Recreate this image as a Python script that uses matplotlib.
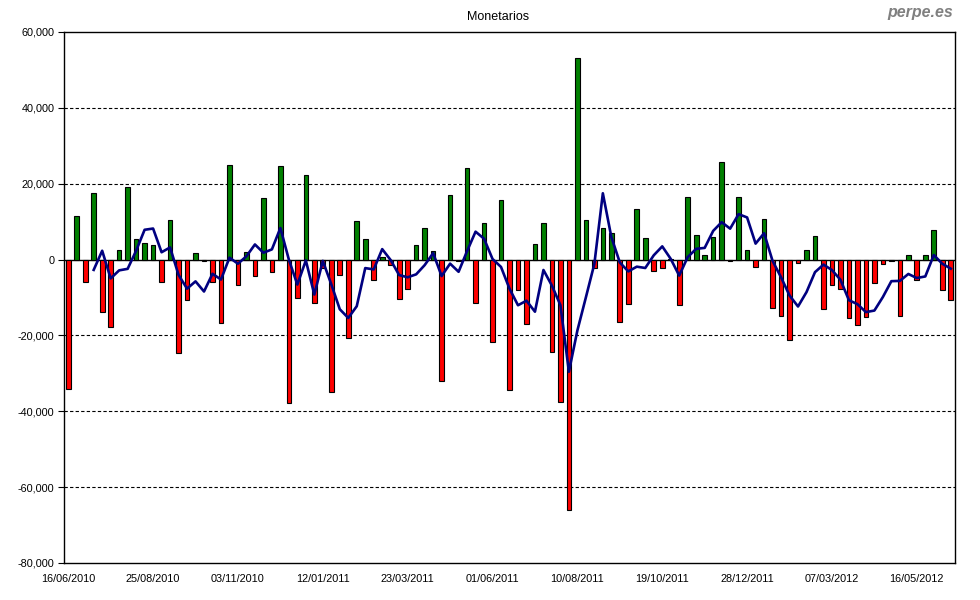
import matplotlib
matplotlib.use("Agg")
import matplotlib.pyplot as plt
from matplotlib.ticker import FuncFormatter
import numpy as np
import pandas as pd

plt.rcParams['font.family'] = ['Liberation Sans', 'DejaVu Sans']

# weekly flows (thousands)
values_k = [
    -34.0, 11.5, -5.9, 17.5, -13.8, -17.7, 2.6, 19.1, 5.3, 4.4,
    3.9, -5.9, 10.4, -24.6, -10.6, 1.8, -0.3, -5.9, -16.7, 24.9,
    -6.7, 2.0, -4.3, 16.2, -3.2, 24.6, -37.7, -10.1, 22.3, -11.4,
    -2.2, -34.8, -4.0, -20.6, 10.2, 5.4, -5.4, 0.8, -1.4, -10.4,
    -7.7, 3.9, 8.3, 2.3, -31.9, 17.0, -0.3, 24.1, -11.4, 9.6,
    -21.7, 15.7, -34.3, -7.9, -16.9, 4.1, 9.7, -24.4, -37.5, -66.1,
    53.2, 10.5, -2.2, 8.4, 7.1, -16.4, -11.6, 13.4, 5.7, -3.0,
    -2.2, 0.2, -11.9, 16.5, 6.5, 1.2, 6.0, 25.7, -0.3, 16.5,
    2.5, -1.9, 10.7, -12.7, -14.8, -21.1, -0.9, 2.5, 6.2, -13.1,
    -6.7, -7.7, -15.4, -17.2, -15.1, -6.1, -1.1, -0.5, -14.8, 1.2,
    -5.4, 1.2, 7.8, -8.0, -10.6,
]
values = np.array(values_k) * 1000
weeks = pd.date_range('2010-06-16', periods=len(values), freq='7D')
week_labels = [d.strftime('%d/%m/%Y') for d in weeks]
ma4 = pd.Series(values).rolling(4).mean()

fig = plt.figure(figsize=(9.8, 6.0), dpi=100)
ax = fig.add_axes([0.0653, 0.0617, 0.9092, 0.885])

x = np.arange(len(values))
colors = ['#008000' if v >= 0 else '#FF0000' for v in values]
ax.bar(x, values, width=0.55, color=colors, edgecolor='black', linewidth=0.8, zorder=3)
ax.plot(x, ma4, color='#000080', linewidth=1.9, zorder=4)

ax.set_xlim(-0.5, len(values) - 0.5)
ax.set_ylim(-80000, 60000)
ax.set_yticks(np.arange(-80000, 60001, 20000))
ax.yaxis.set_major_formatter(FuncFormatter(lambda v, p: f'{int(v):,}'))
for yv in [-60000, -40000, -20000, 20000, 40000]:
    ax.axhline(yv, color='black', linestyle=(0, (3, 2)), linewidth=0.8, zorder=1)
ax.axhline(0, color='black', linewidth=1.0, zorder=2)

tick_pos = x[::10]
ax.set_xticks(tick_pos)
ax.set_xticklabels([week_labels[i] for i in tick_pos])
ax.tick_params(axis='x', length=0, labelsize=7.8, pad=8)
ax.tick_params(axis='y', length=4, width=0.8, labelsize=7.8, pad=3)

for s in ax.spines.values():
    s.set_linewidth(1.0)
    s.set_color('black')

fig.text(0.508, 0.971, 'Monetarios', ha='center', va='center', fontsize=9)
fig.text(0.973, 0.979, 'perpe.es', ha='right', va='center', fontsize=11.5,
         fontweight='bold', style='italic', color='#808080')

plt.savefig('out.png', dpi=100)
plt.close()
